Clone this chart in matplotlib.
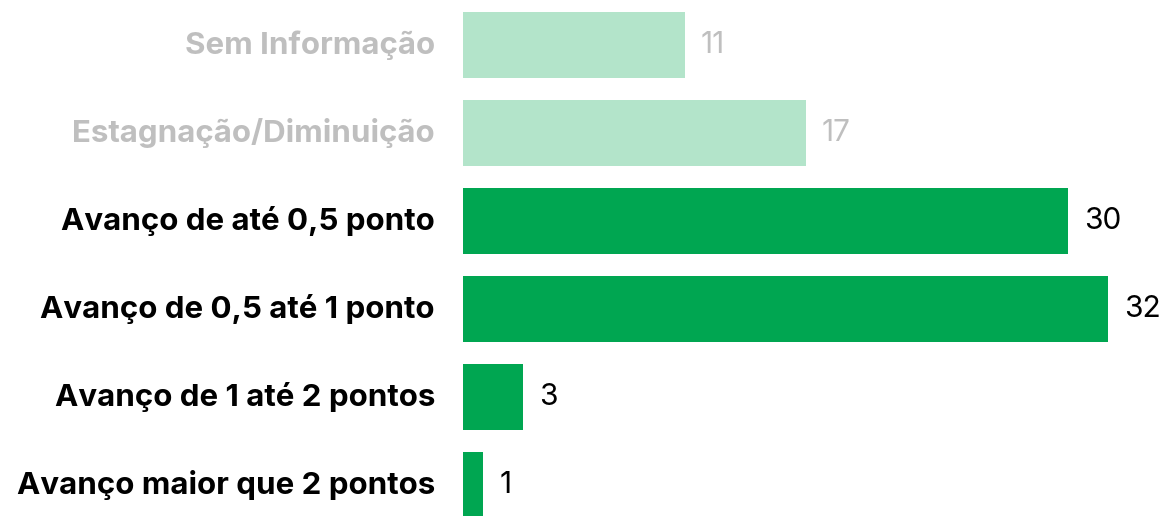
import matplotlib
matplotlib.use("Agg")
import matplotlib.pyplot as plt
from matplotlib.transforms import offset_copy

categories = ["Sem Informação", "Estagnação/Diminuição", "Avanço de até 0,5 ponto",
              "Avanço de 0,5 até 1 ponto", "Avanço de 1 até 2 pontos", "Avanço maior que 2 pontos"]
values = [11, 17, 30, 32, 3, 1]
muted = [True, True, False, False, False, False]

plt.rcParams['font.family'] = ['Inter', 'DejaVu Sans']

fig = plt.figure(figsize=(11.64, 5.16), dpi=100)
ax = fig.add_axes([463/1164, 0, 1 - 463/1164, 1])

dark = "#00A651"
light = "#B3E4CA"
gray = "#BFBFBF"

ys = list(range(len(categories)))
colors = [light if m else dark for m in muted]
ax.barh(ys, values, height=0.75, color=colors)
ax.set_xlim(0, 701/20.16)
ax.set_ylim(471/88, -45/88)
ax.axis('off')

for y, v, cat, m in zip(ys, values, categories, muted):
    tc = gray if m else "black"
    t = offset_copy(ax.transData, fig=fig, x=16*72/100, y=0, units='points')
    ax.text(v, y, str(v), transform=t, ha='left', va='center', fontsize=21.5, color=tc)
    t2 = offset_copy(ax.transData, fig=fig, x=-28*72/100, y=0, units='points')
    ax.text(0, y, cat, transform=t2, ha='right', va='center', fontsize=22.5,
            fontweight='bold', color=tc)

fig.savefig("out.png", dpi=100)
